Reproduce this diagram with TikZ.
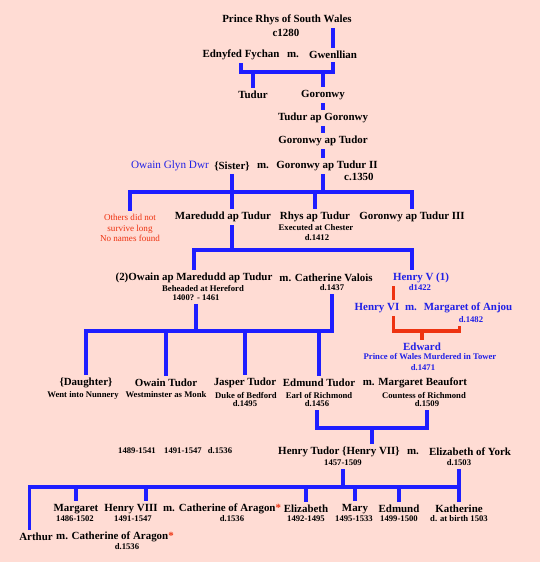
\documentclass[tikz,border=0pt]{standalone}
\usepackage{fontspec}
\setmainfont{Liberation Serif}
\usetikzlibrary{calc}
\definecolor{bgpink}{HTML}{FFDCD4}
\definecolor{lineblue}{HTML}{1E1EFF}
\definecolor{royalblue}{HTML}{2020E6}
\definecolor{redline}{HTML}{EE3311}
\tikzset{
  person/.style={font=\bfseries\fontsize{8.2}{9}\selectfont, inner sep=1pt, outer sep=1.5pt},
  note/.style={font=\bfseries\fontsize{6.5}{7.5}\selectfont, inner sep=1pt, outer sep=1.5pt},
  royal/.style={person, text=royalblue},
  royalnote/.style={note, text=royalblue},
  lost/.style={font=\fontsize{6.8}{7.9}\selectfont, text=redline, align=center, inner sep=1pt, outer sep=1.5pt},
  tie/.style={draw=lineblue, line width=2.4pt},
  redtie/.style={draw=redline, line width=2.4pt},
}
\newcommand{\redstar}{{\color{redline}*}}

\begin{document}
\begin{tikzpicture}[x=0.75pt, y=-0.75pt]
  \fill[bgpink] (0,0) rectangle (540,562);
  \useasboundingbox (0,0) rectangle (540,562);

  % Prince Rhys and the first generations
  \node[person] (rhys) at (287,20) {Prince Rhys of South Wales};
  \node[person] (rhysD) at (286,33) {c1280};
  \node[person] (ednyfed) at (241,55) {Ednyfed Fychan};
  \node[person] (m1) at (293,55) {m.};
  \node[person] (gwen) at (333,55) {Gwenllian};
  \node[person] (tudur) at (253,95) {Tudur};
  \node[person] (goronwy) at (323,95) {Goronwy};
  \node[person] (tudurG) at (323,118) {Tudur ap Goronwy};
  \node[person] (goronwyT) at (323,141) {Goronwy ap Tudor};
  \node[font=\fontsize{8.4}{9}\selectfont, text=royalblue, inner sep=1pt] (glyndwr) at (170,166) {Owain Glyn Dwr};
  \node[person] (sister) at (232,166) {\{Sister\}};
  \node[person] (m2) at (263,166) {m.};
  \node[person] (goronwyII) at (327,166) {Goronwy ap Tudur II};
  \node[person, anchor=east] (goronwyIID) at (377,177) {c.1350};

  % children of Goronwy ap Tudur II
  \node[lost] (others) at (130,228) {Others did not\\survive long\\No names found};
  \node[person] (maredudd) at (223,217) {Maredudd ap Tudur};
  \node[person] (rhysT) at (315,217) {Rhys ap Tudur};
  \node[note] (rhysTnote) at (316,228) {Executed at Chester};
  \node[note] (rhysTD) at (317,238) {d.1412};
  \node[person] (goronwyIII) at (412,217) {Goronwy ap Tudur III};

  % Owain and Catherine, Henry V
  \node[person] (owain2) at (194,278) {(2)Owain ap Maredudd ap Tudur};
  \node[person] (catV) at (326,278) {m. Catherine Valois};
  \node[note] (owain2note) at (203,288) {Beheaded at Hereford};
  \node[note] (owain2years) at (196,298) {1400? - 1461};
  \node[note] (catD) at (332,288) {d.1437};
  \node[royal] (henryV) at (421,278) {Henry V (1)};
  \node[royalnote] (henryVD) at (420,288) {d1422};
  \node[royal] (henryVI) at (377,308) {Henry VI};
  \node[royal] (m3) at (411,308) {m.};
  \node[royal] (anjou) at (468,308) {Margaret of Anjou};
  \node[royalnote] (anjouD) at (471,320) {d.1482};
  \node[royal] (edward) at (422,347) {Edward};
  \node[royalnote] (edwardnote) at (430,357) {Prince of Wales  Murdered in Tower};
  \node[royalnote] (edwardD) at (423,368) {d.1471};

  % children of Owain and Catherine
  \node[person] (daughter) at (86,383) {\{Daughter\}};
  \node[note] (daughternote) at (83,395) {Went into Nunnery};
  \node[person] (owainT) at (166,383) {Owain Tudor};
  \node[note] (owainTnote) at (166,395) {Westminster as Monk};
  \node[person] (jasper) at (245,383) {Jasper Tudor};
  \node[note] (jaspernote) at (246,395) {Duke of Bedford};
  \node[note] (jasperD) at (245,404) {d.1495};
  \node[person] (edmund) at (319,383) {Edmund Tudor};
  \node[note] (edmundnote) at (319,395) {Earl of Richmond};
  \node[note] (edmundD) at (317,404) {d.1456};
  \node[person] (beaufort) at (415,383) {m. Margaret Beaufort};
  \node[note] (beaufortnote) at (424,395) {Countess of Richmond};
  \node[note] (beaufortD) at (427,404) {d.1509};

  % Henry VII and Elizabeth of York
  \node[note] (stray1) at (137,451) {1489-1541};
  \node[note] (stray2) at (183,451) {1491-1547};
  \node[note] (stray3) at (220,451) {d.1536};
  \node[person] (henryVII) at (339,452) {Henry Tudor \{Henry VII\}};
  \node[person] (m4) at (413,452) {m.};
  \node[person] (elizY) at (470,452) {Elizabeth of York};
  \node[note] (henryVIIyears) at (343,463) {1457-1509};
  \node[note] (elizYD) at (459,463) {d.1503};

  % their children
  \node[person] (margaret) at (76,509) {Margaret};
  \node[note] (margaretD) at (75,519) {1486-1502};
  \node[person] (henryVIII) at (131,509) {Henry VIII};
  \node[note] (henryVIIID) at (133,519) {1491-1547};
  \node[person] (m5) at (169,509) {m.};
  \node[person] (cathA) at (230,509) {Catherine of Aragon\redstar};
  \node[note] (cathAD) at (232,519) {d.1536};
  \node[person] (elizabeth) at (306,509) {Elizabeth};
  \node[note] (elizabethD) at (306,519) {1492-1495};
  \node[person] (mary) at (355,509) {Mary};
  \node[note] (maryD) at (354,519) {1495-1533};
  \node[person] (edmundII) at (399,509) {Edmund};
  \node[note] (edmundIID) at (399,519) {1499-1500};
  \node[person] (katherine) at (459,509) {Katherine};
  \node[note] (katherineD) at (459,519) {d. at birth 1503};
  \node[person] (arthur) at (36,537) {Arthur};
  \node[person] (cathA2) at (115,537) {m. Catherine of Aragon\redstar};
  \node[note] (cathA2D) at (127,547) {d.1536};

  % connectors
  \coordinate (wed1) at (0,72);
  \coordinate (kin1) at (0,192);
  \coordinate (kin2) at (0,250);
  \coordinate (kin3) at (0,331);
  \coordinate (wed2) at (0,428);
  \coordinate (kin5) at (0,487);
  \coordinate (hv) at ($(henryV.west)+(4,0)$);
  \coordinate (anj) at ($(anjouD.south west)+(4,0)$);
  \coordinate (mid) at ($(edmundD.south)!0.5!(beaufortD.south)$);
  \coordinate (h8) at ($(henryVIII.north)!0.5!(henryVIII.north east)$);
  \coordinate (art) at ($(arthur.north west)!0.33!(arthur.north east)$);

  \draw[tie] (rhys.south -| gwen) -- (gwen.north);
  \draw[tie] (ednyfed.south) -- (ednyfed.south |- wed1) -- (gwen.south |- wed1) -- (gwen.south);
  \draw[tie] (tudur.north |- wed1) -- (tudur.north);
  \draw[tie] (goronwy.north |- wed1) -- (goronwy.north);
  \draw[tie] (goronwy) -- (tudurG);
  \draw[tie] (tudurG) -- (goronwyT);
  \draw[tie] (goronwyT.south) -- (goronwyT.south |- goronwyII.north);

  \draw[tie] (goronwyII.south -| goronwyT) -- (kin1 -| goronwyT);
  \draw[tie] (sister.south) -- (sister.south |- maredudd.north);
  \draw[tie] (others.north) -- (others.north |- kin1) -- (goronwyIII.north |- kin1) -- (goronwyIII.north);
  \draw[tie] (rhysT.north |- kin1) -- (rhysT.north);

  \draw[tie] (maredudd.south -| sister) -- (kin2 -| sister);
  \draw[tie] (owain2.north) -- (owain2.north |- kin2) -- (goronwyIII.south |- kin2) -- (goronwyIII.south |- henryV.north);

  \draw[tie] (owain2years.south) -- (owain2years.south |- kin3);
  \draw[tie] (daughter.north) -- (daughter.north |- kin3) -- (catD.south |- kin3) -- (catD.south);
  \foreach \c in {owainT, jasper, edmund}
    \draw[tie] (\c.north |- kin3) -- (\c.north);

  \draw[redtie] (henryV.south -| hv) -- (henryVI.north -| hv);
  \draw[redtie] (henryVI.south -| hv) -- (hv |- kin3) -- (anj |- kin3) -- (anj);
  \draw[redtie] (edward.north |- kin3) -- (edward.north);

  \draw[tie] (edmundD.south) -- (edmundD.south |- wed2) -- (beaufortD.south |- wed2) -- (beaufortD.south);
  \draw[tie] (mid |- wed2) -- (mid |- henryVII.north);

  \draw[tie] (henryVIIyears.south) -- (henryVIIyears.south |- kin5);
  \draw[tie] (elizYD.south) -- (katherine.north);
  \draw[tie] (art) -- (art |- kin5) -- (katherine.north |- kin5);
  \draw[tie] (h8 |- kin5) -- (h8);
  \foreach \c in {margaret, elizabeth, mary, edmundII}
    \draw[tie] (\c.north |- kin5) -- (\c.north);
\end{tikzpicture}
\end{document}
